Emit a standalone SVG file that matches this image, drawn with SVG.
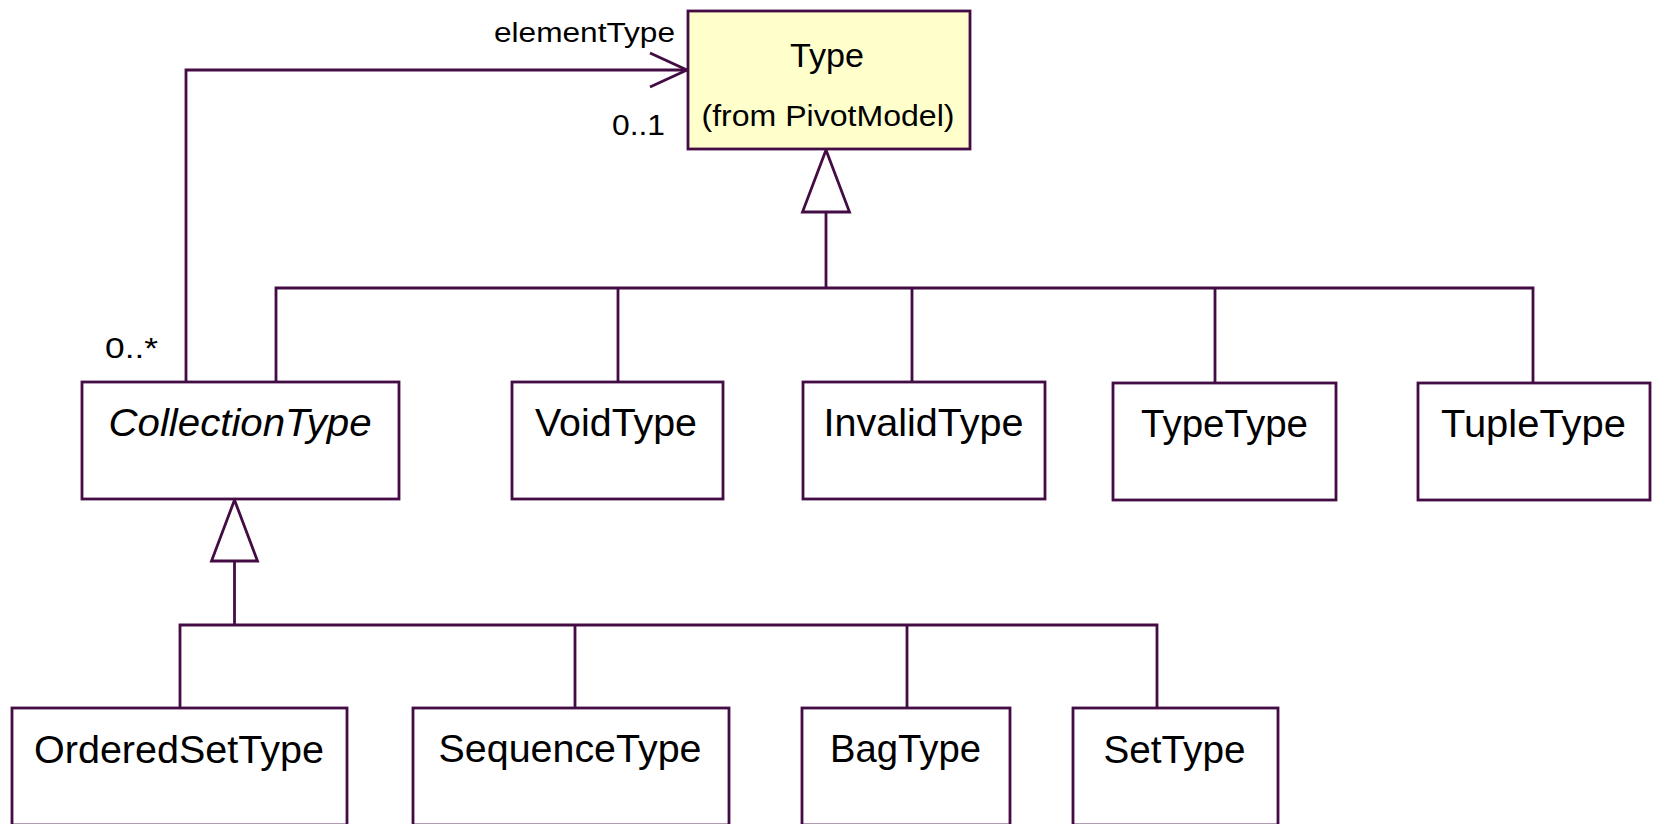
<svg xmlns="http://www.w3.org/2000/svg" width="1657" height="824" viewBox="0 0 1657 824">
<style>
  .box { fill: #ffffff; stroke: #440c44; stroke-width: 2.8; }
  .root { fill: #ffffcc; stroke: #440c44; stroke-width: 2.8; }
  .ln { fill: none; stroke: #440c44; stroke-width: 2.8; }
  .tri { fill: #ffffff; stroke: #440c44; stroke-width: 2.8; stroke-linejoin: miter; }
  .name { font-family: "Liberation Sans", Arial, sans-serif; font-size: 38.5px; fill: #000000; text-anchor: middle; }
  .lbl { font-family: "Liberation Sans", Arial, sans-serif; fill: #000000; }
</style>
<rect width="1657" height="824" fill="#ffffff"/>

<g id="connectors">
  <!-- association CollectionType -> Type (elementType) -->
  <polyline class="ln" points="186,382 186,70 687,70"/>
  <polyline class="ln" points="650,53 687,70 650,87"/>
  <text class="lbl" x="494" y="42" font-size="27" textLength="181" lengthAdjust="spacingAndGlyphs">elementType</text>
  <text class="lbl" x="612" y="135" font-size="29" textLength="53" lengthAdjust="spacingAndGlyphs">0..1</text>
  <text class="lbl" x="105" y="358" font-size="30" textLength="53" lengthAdjust="spacingAndGlyphs">0..*</text>

  <!-- generalization to Type -->
  <polygon class="tri" points="826,150 802.5,212 849.5,212"/>
  <line class="ln" x1="826" y1="212" x2="826" y2="288"/>
  <polyline class="ln" points="276,382 276,288 1533,288 1533,383"/>
  <line class="ln" x1="618" y1="288" x2="618" y2="382"/>
  <line class="ln" x1="912" y1="288" x2="912" y2="382"/>
  <line class="ln" x1="1215" y1="288" x2="1215" y2="383"/>

  <!-- generalization to CollectionType -->
  <polygon class="tri" points="234.5,500 211.5,561 257.5,561"/>
  <line class="ln" x1="234.5" y1="561" x2="234.5" y2="625"/>
  <polyline class="ln" points="180,708 180,625 1157,625 1157,708"/>
  <line class="ln" x1="575" y1="625" x2="575" y2="708"/>
  <line class="ln" x1="907" y1="625" x2="907" y2="708"/>
</g>

<g id="Type">
  <rect class="root" x="688" y="11" width="282" height="138"/>
  <text class="name" x="827" y="67" style="font-size:34px" textLength="74" lengthAdjust="spacingAndGlyphs">Type</text>
  <text class="name" x="828" y="126" style="font-size:29px" textLength="253" lengthAdjust="spacingAndGlyphs">(from PivotModel)</text>
</g>

<g id="CollectionType">
  <rect class="box" x="82" y="382" width="317" height="117"/>
  <text class="name" x="240" y="436" font-style="italic" textLength="263" lengthAdjust="spacingAndGlyphs">CollectionType</text>
</g>
<g id="VoidType">
  <rect class="box" x="512" y="382" width="211" height="117"/>
  <text class="name" x="616" y="436" textLength="162" lengthAdjust="spacingAndGlyphs">VoidType</text>
</g>
<g id="InvalidType">
  <rect class="box" x="803" y="382" width="242" height="117"/>
  <text class="name" x="923.5" y="436" textLength="200" lengthAdjust="spacingAndGlyphs">InvalidType</text>
</g>
<g id="TypeType">
  <rect class="box" x="1113" y="383" width="223" height="117"/>
  <text class="name" x="1224.5" y="437" textLength="167" lengthAdjust="spacingAndGlyphs">TypeType</text>
</g>
<g id="TupleType">
  <rect class="box" x="1418" y="383" width="232" height="117"/>
  <text class="name" x="1533.5" y="437" textLength="185" lengthAdjust="spacingAndGlyphs">TupleType</text>
</g>

<g id="OrderedSetType">
  <rect class="box" x="12" y="708" width="335" height="117"/>
  <text class="name" x="179" y="763" textLength="290" lengthAdjust="spacingAndGlyphs">OrderedSetType</text>
</g>
<g id="SequenceType">
  <rect class="box" x="413" y="708" width="316" height="117"/>
  <text class="name" x="570" y="762" textLength="263" lengthAdjust="spacingAndGlyphs">SequenceType</text>
</g>
<g id="BagType">
  <rect class="box" x="802" y="708" width="208" height="117"/>
  <text class="name" x="905.5" y="762" textLength="151" lengthAdjust="spacingAndGlyphs">BagType</text>
</g>
<g id="SetType">
  <rect class="box" x="1073" y="708" width="205" height="117"/>
  <text class="name" x="1174.5" y="763" textLength="142" lengthAdjust="spacingAndGlyphs">SetType</text>
</g>
</svg>
